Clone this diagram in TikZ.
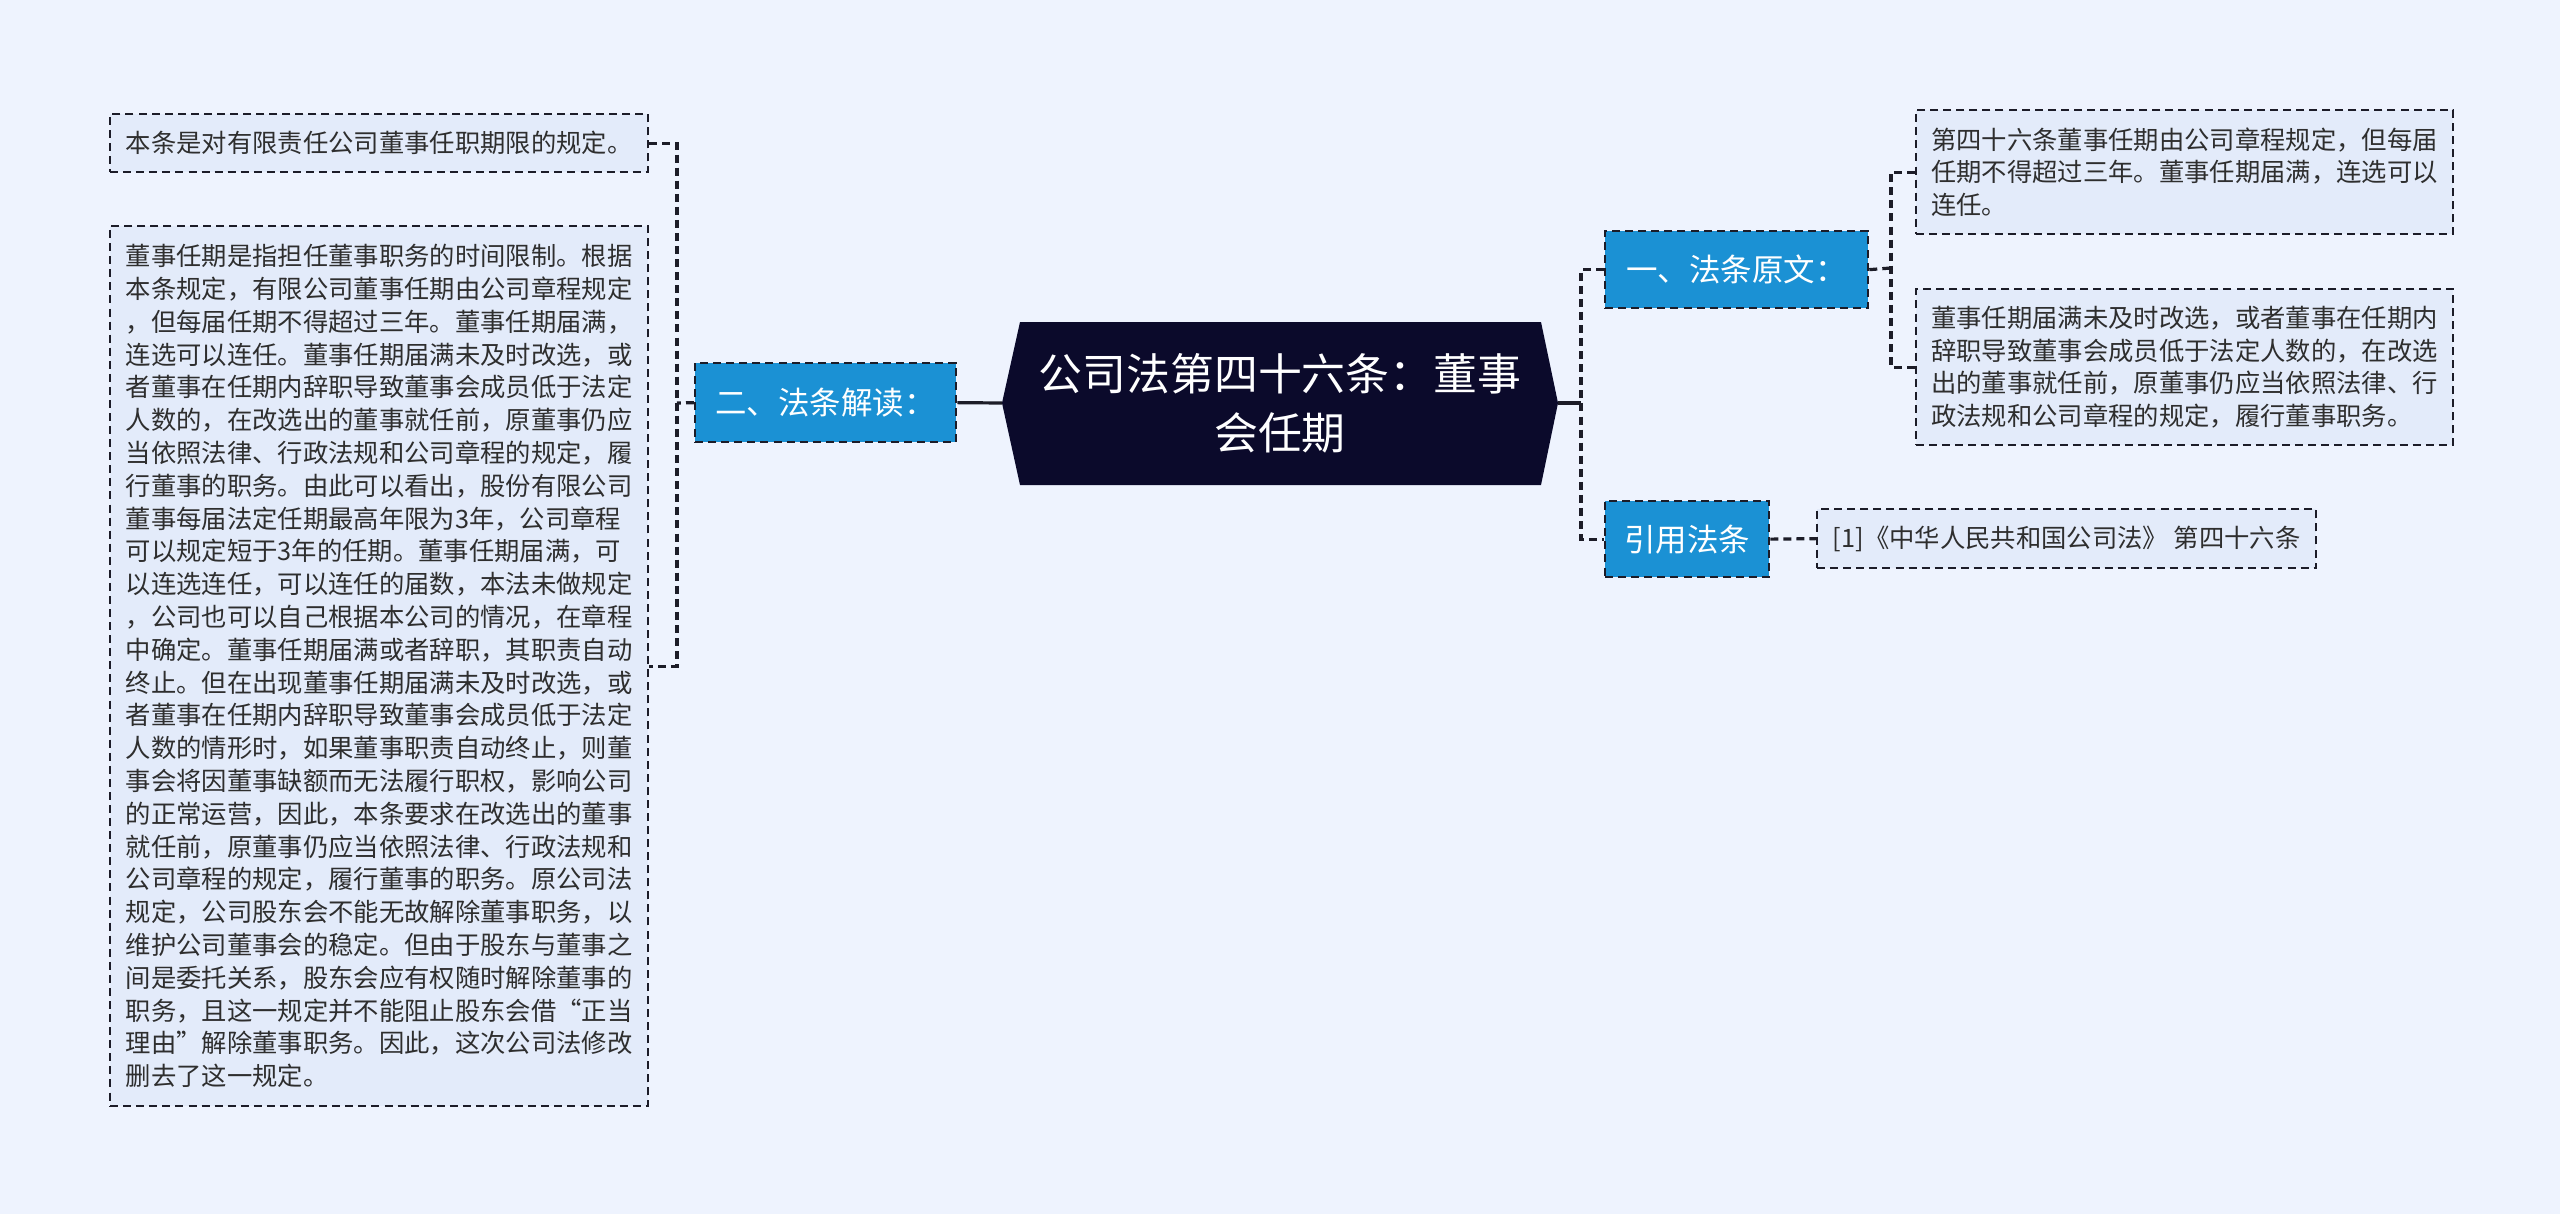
\documentclass[tikz,border=0pt]{standalone}
\usepackage{fontspec}
\usepackage{xcolor}
\usepackage{tikz}
\setmainfont{Noto Sans CJK SC}
\definecolor{MMBack}{HTML}{EEF3FE}
\definecolor{MMLeaf}{HTML}{E3EBFA}
\definecolor{MMBlue}{HTML}{1B91D4}
\definecolor{MMRoot}{HTML}{0B0A2B}
\definecolor{MMLine}{HTML}{1C1C28}
\definecolor{MMText}{HTML}{2E2E2E}

\begin{document}
\begin{tikzpicture}[x=0.75pt,y=-0.75pt,
  leaf/.style={draw=MMLine,line width=1.7pt,dash pattern=on 6pt off 3.8pt,fill=MMLeaf,text=MMText,
    anchor=north west,align=left,inner xsep=0pt,inner ysep=0pt,font=\fontsize{19pt}{24.6pt}\selectfont},
  topic/.style={draw=MMLine,line width=1.7pt,dash pattern=on 6pt off 3.8pt,fill=MMBlue,text=white,
    anchor=north west,inner sep=0pt,font=\fontsize{23.6pt}{28pt}\selectfont},
  link/.style={MMLine,line width=2.4pt,dash pattern=on 6pt off 3.8pt},
  trunk/.style={MMLine,line width=2.4pt}]
\path[use as bounding box] (0,0) rectangle (2560,1214);
\fill[MMBack] (0,0) rectangle (2560,1214);
% root
\coordinate (tipL) at (1002,403);
\coordinate (tipR) at (1558,403);
\fill[MMRoot] (tipL) -- (1020,322) -- (1541,322) -- (tipR) -- (1541,485) -- (1020,485) -- cycle;
\node[text=white,align=center,font=\fontsize{32.9pt}{44pt}\selectfont] (root) at (1280,403) {公司法第四十六条：董事\\会任期};
% left branch
\node[topic,minimum width=195.75pt,minimum height=59.25pt] (l2) at (694,362) {二、法条解读：};
\node[leaf,minimum width=403.5pt,minimum height=43.5pt] (lt) at (109,113) {本条是对有限责任公司董事任职期限的规定。};
\node[leaf,minimum width=403.5pt,minimum height=660pt] (explain) at (109,225) {董事任期是指担任董事职务的时间限制。根据\\
本条规定，有限公司董事任期由公司章程规定\\
，但每届任期不得超过三年。董事任期届满，\\
连选可以连任。董事任期届满未及时改选，或\\
者董事在任期内辞职导致董事会成员低于法定\\
人数的，在改选出的董事就任前，原董事仍应\\
当依照法律、行政法规和公司章程的规定，履\\
行董事的职务。由此可以看出，股份有限公司\\
董事每届法定任期最高年限为3年，公司章程\\
可以规定短于3年的任期。董事任期届满，可\\
以连选连任，可以连任的届数，本法未做规定\\
，公司也可以自己根据本公司的情况，在章程\\
中确定。董事任期届满或者辞职，其职责自动\\
终止。但在出现董事任期届满未及时改选，或\\
者董事在任期内辞职导致董事会成员低于法定\\
人数的情形时，如果董事职责自动终止，则董\\
事会将因董事缺额而无法履行职权，影响公司\\
的正常运营，因此，本条要求在改选出的董事\\
就任前，原董事仍应当依照法律、行政法规和\\
公司章程的规定，履行董事的职务。原公司法\\
规定，公司股东会不能无故解除董事职务，以\\
维护公司董事会的稳定。但由于股东与董事之\\
间是委托关系，股东会应有权随时解除董事的\\
职务，且这一规定并不能阻止股东会借“正当\\
理由”解除董事职务。因此，这次公司法修改\\
删去了这一规定。};
% right branch
\node[topic,minimum width=197.25pt,minimum height=57.75pt] (r1) at (1604,230) {一、法条原文：};
\node[topic,minimum width=123pt,minimum height=57pt] (cite) at (1604,500) {引用法条};
\node[leaf,minimum width=402.75pt,minimum height=93pt] (rt1) at (1915,109) {第四十六条董事任期由公司章程规定，但每届\\
任期不得超过三年。董事任期届满，连选可以\\
连任。};
\node[leaf,minimum width=402.75pt,minimum height=117pt] (rt2) at (1915,288) {董事任期届满未及时改选，或者董事在任期内\\
辞职导致董事会成员低于法定人数的，在改选\\
出的董事就任前，原董事仍应当依照法律、行\\
政法规和公司章程的规定，履行董事职务。};
\node[leaf,minimum width=374.25pt,minimum height=44.25pt] (law) at (1816,508) {[1]《中华人民共和国公司法》 第四十六条};
% connectors
\coordinate (hubL) at (677,403);
\coordinate (hubR) at (1581,403);
\coordinate (hubO) at (1891,268);
\draw[trunk] (tipL) -- (l2.east);
\draw[trunk] (tipR) -- (hubR);
\draw[link] (r1.west) -| (hubR) |- (cite.west);
\draw[link] (l2.west) -- (hubL);
\draw[link] (lt.east) -| (hubL) |- (explain.east);
\draw[link] (r1.east) -- (hubO);
\draw[link] (rt1.west) -| (hubO) |- (rt2.west);
\draw[link] (cite.east) -- (law.west);
\end{tikzpicture}
\end{document}
